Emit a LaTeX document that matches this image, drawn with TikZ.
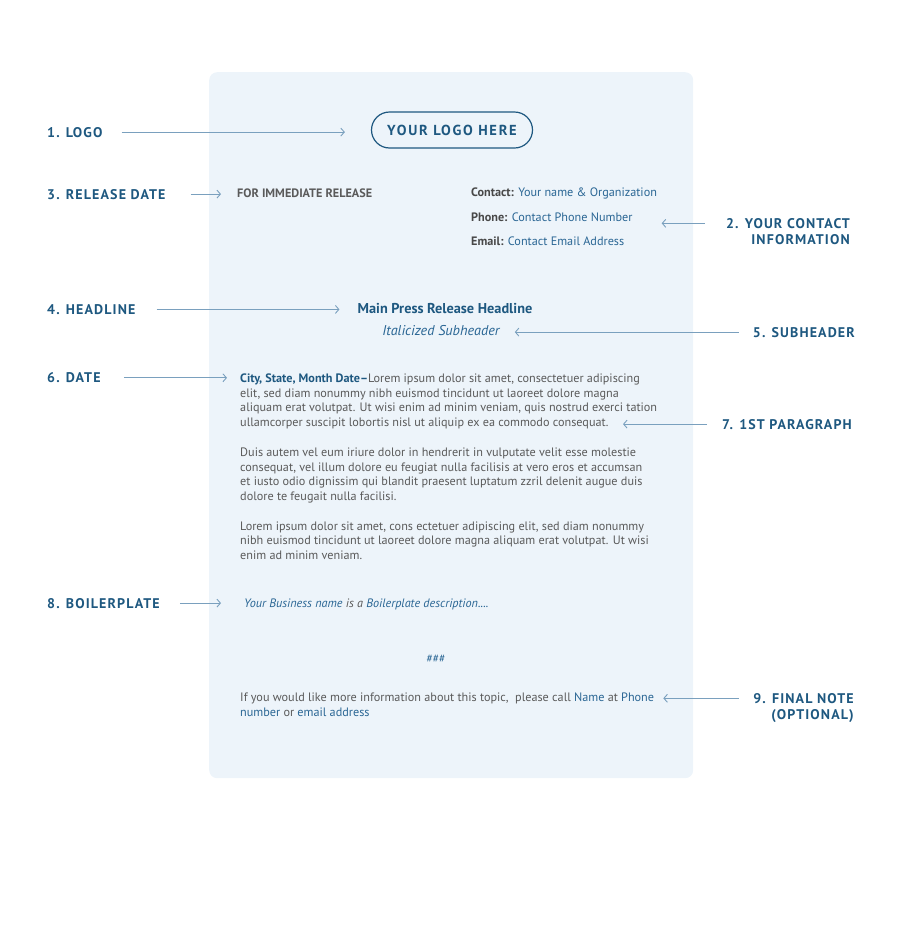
\documentclass[tikz,border=0pt]{standalone}
\usepackage{fontspec}
\setmainfont{PT Sans}
\newfontfamily\tagfont[LetterSpace=8]{PT Sans}
\newfontfamily\logofont[LetterSpace=12]{PT Sans}
\usepackage{xcolor}
\usetikzlibrary{arrows.meta}

\definecolor{pagefill}{RGB}{237,244,250}
\definecolor{tagblue}{RGB}{30,88,128}
\definecolor{linkblue}{RGB}{42,102,148}
\definecolor{bodygray}{RGB}{90,90,90}
\definecolor{keygray}{RGB}{72,72,72}
\definecolor{arrowblue}{RGB}{122,160,190}

\newcommand{\linktxt}[1]{\textcolor{linkblue}{#1}}
\newcommand{\keytxt}[1]{\textcolor{keygray}{\textbf{#1}}}

\begin{document}
\begin{tikzpicture}[x=1pt, y=-1pt,
    % light blue sheet
    sheet/.style={rectangle, fill=pagefill, rounded corners=8pt, inner sep=0pt},
    % numbered side labels
    tag/.style={font=\tagfont\bfseries\fontsize{14}{16}\selectfont,
                text=tagblue, inner sep=0pt},
    % logo placeholder (pill)
    logobox/.style={rectangle, draw=tagblue, line width=1.2pt, rounded corners=18pt,
                    minimum width=161pt, minimum height=36pt,
                    font=\logofont\bfseries\fontsize{14.5}{16}\selectfont, text=tagblue},
    % running text on the sheet (multi-line nodes sit on their last baseline)
    body/.style={font=\fontsize{12.2}{14.7}\selectfont, text=bodygray,
                 inner sep=0pt, align=left},
    % pointer arrows
    arrow/.style={-{Straight Barb[length=3.5pt, width=8pt]}, line width=0.9pt, arrowblue}
]
\useasboundingbox (0,0) rectangle (900,927);

%-------- SHEET --------
\node[sheet, minimum width=484pt, minimum height=706pt, anchor=north west] (sheet) at (209,72) {};

%-------- HEADER --------
\node[logobox] (logo) at (452,130) {YOUR LOGO HERE};
\node[body, font=\bfseries\fontsize{12.2}{14}\selectfont, anchor=base west] (release)
    at (237,197) {FOR IMMEDIATE RELEASE};
\node[body, anchor=base west] (contact) at (471,196.7)
    {\keytxt{Contact:} \linktxt{Your name \& Organization}};
\node[body, anchor=base west] (phone) at (471,221)
    {\keytxt{Phone:} \linktxt{Contact Phone Number}};
\node[body, anchor=base west] (email) at (471,245)
    {\keytxt{Email:} \linktxt{Contact Email Address}};

%-------- HEADLINE --------
\node[anchor=base, inner sep=0pt, font=\bfseries\fontsize{14.3}{16}\selectfont, text=tagblue]
    (headline) at (445,313.5) {Main Press Release Headline};
\node[anchor=base, inner sep=0pt, font=\itshape\fontsize{14.2}{16}\selectfont, text=linkblue]
    (subhead) at (441,335) {Italicized Subheader};

%-------- BODY --------
\node[body, anchor=base west] (para1) at (240,426.6)
    {\textcolor{tagblue}{\textbf{City, State, Month Date--}}Lorem ipsum dolor sit amet, consectetuer adipiscing\\
     elit, sed diam nonummy nibh euismod tincidunt ut laoreet dolore magna\\
     aliquam erat volutpat. Ut wisi enim ad minim veniam, quis nostrud exerci tation\\
     ullamcorper suscipit lobortis nisl ut aliquip ex ea commodo consequat.};
\node[body, anchor=base west] (para2) at (240,500.6)
    {Duis autem vel eum iriure dolor in hendrerit in vulputate velit esse molestie\\
     consequat, vel illum dolore eu feugiat nulla facilisis at vero eros et accumsan\\
     et iusto odio dignissim qui blandit praesent luptatum zzril delenit augue duis\\
     dolore te feugait nulla facilisi.};
\node[body, anchor=base west] (para3) at (240,559.4)
    {Lorem ipsum dolor sit amet, cons ectetuer adipiscing elit, sed diam nonummy\\
     nibh euismod tincidunt ut laoreet dolore magna aliquam erat volutpat. Ut wisi\\
     enim ad minim veniam.};

%-------- CLOSING --------
\node[body, font=\itshape\fontsize{12.2}{14}\selectfont, anchor=base west] (boiler) at (244,607)
    {\linktxt{Your Business name} is a \linktxt{Boilerplate description....}};
\node[anchor=base, inner sep=0pt, font=\fontsize{11.4}{12}\selectfont, text=linkblue]
    (hashes) at (436,662) {\#\#\#};
\node[body, anchor=base west] (final) at (240,716)
    {If you would like more information about this topic,\ \ please call \linktxt{Name} at \linktxt{Phone}\\
     \linktxt{number} or \linktxt{email address}};

%-------- SIDE LABELS --------
\node[tag, anchor=base west] (taglogo)    at (47,137)  {1. LOGO};
\node[tag, anchor=base west] (tagrelease) at (47,199)  {3. RELEASE DATE};
\node[tag, anchor=base east, align=right] (tagcontact) at (850,244) {2. YOUR CONTACT\\INFORMATION};
\node[tag, anchor=base west] (taghead)    at (47,314.3) {4. HEADLINE};
\node[tag, anchor=base east] (tagsub)     at (855,337) {5. SUBHEADER};
\node[tag, anchor=base west] (tagdate)    at (47,382.7) {6. DATE};
\node[tag, anchor=base east] (tagpara)    at (852,429) {7. 1ST PARAGRAPH};
\node[tag, anchor=base west] (tagboiler)  at (47,608)  {8. BOILERPLATE};
\node[tag, anchor=base east, align=right] (tagfinal) at (854,719.5) {9. FINAL NOTE\\(OPTIONAL)};

\coordinate (paraend) at (623,424);

%-------- ARROWS --------
\draw[arrow, shorten <=19pt, shorten >=26pt] (taglogo.east) -- (taglogo.east -| logo.west);
\draw[arrow, shorten <=25pt, shorten >=16pt] (tagrelease.east) -- (tagrelease.east -| release.west);
\draw[arrow, shorten <=21pt, shorten >=29pt] ([yshift=-5.5pt]tagcontact.north west)
    -- ([yshift=-5.5pt]tagcontact.north west -| phone.east);
\draw[arrow, shorten <=21pt, shorten >=18pt] (taghead.east) -- (taghead.east -| headline.west);
\draw[arrow, shorten <=14pt, shorten >=15pt] (tagsub.west) -- (tagsub.west -| subhead.east);
\draw[arrow, shorten <=23pt, shorten >=13pt] (tagdate.east) -- (tagdate.east -| para1.west);
\draw[arrow, shorten <=15pt] (tagpara.west) -- (tagpara.west -| paraend);
\draw[arrow, shorten <=20pt, shorten >=23pt] (tagboiler.east) -- (tagboiler.east -| boiler.west);
\draw[arrow, shorten <=14pt, shorten >=9pt] ([yshift=-5pt]tagfinal.north west)
    -- ([yshift=-5pt]tagfinal.north west -| final.east);

\end{tikzpicture}
\end{document}
